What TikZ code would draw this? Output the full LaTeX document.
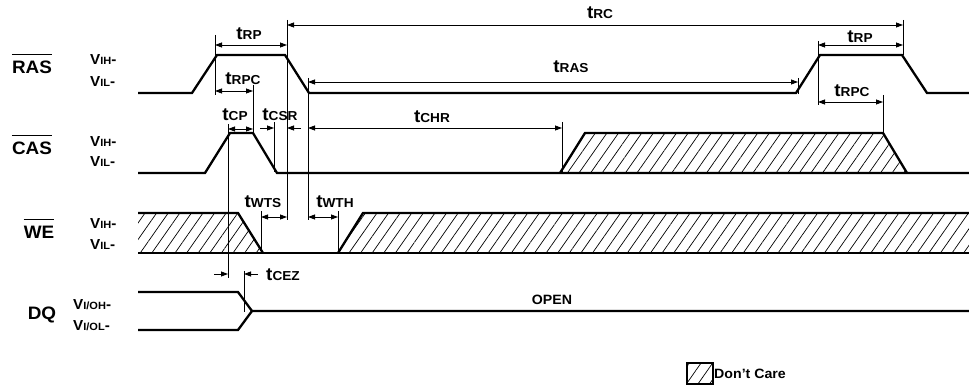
\documentclass[tikz,border=0pt]{standalone}
\usepackage{fontspec}
\setmainfont{Liberation Sans}[FakeStretch=1.05]
\usetikzlibrary{arrows.meta,patterns.meta}
\newcommand\tsub[1]{{\fontsize{18}{18}\selectfont t}{\fontsize{13}{13}\selectfont #1}}
\newcommand\vsub[1]{{\fontsize{14.5}{15}\selectfont V}{\fontsize{10.5}{11}\selectfont #1}{\fontsize{14.5}{15}\selectfont -}}
\begin{document}
\begin{tikzpicture}[x=1pt,y=-1pt,font=\bfseries,
  wave/.style={line width=2.3pt},
  guide/.style={line width=0.8pt},
  tip/.tip={Triangle[length=7pt,width=5pt]},
  dim/.style={line width=0.8pt,tip-tip},
  onedim/.style={line width=0.8pt,-tip},
  hatch/.style={pattern={Lines[angle=55,distance=9.5pt,line width=0.7pt]}},
  tlab/.style={inner sep=0pt},
  sig/.style={inner sep=0pt,font=\bfseries\fontsize{18}{18}\selectfont},
  lvl/.style={inner sep=0pt,anchor=west},
  small/.style={inner sep=0pt,font=\bfseries\fontsize{13.5}{14}\selectfont}]
\useasboundingbox (0,0) rectangle (969,387);
% ---------- signal names ----------
\node[sig] (ras) at (32,67) {RAS};
\node[sig] (cas) at (32,148) {CAS};
\node[sig] (we)  at (39,232) {WE};
\node[sig] (dq)  at (42,315) {DQ};
\foreach \n in {ras,cas,we}
  \draw[line width=1pt] ([yshift=6pt]\n.north west) -- ([yshift=6pt]\n.north east);
% ---------- levels ----------
\node[lvl] (l1) at (90,60) {\vsub{IH}};
\node[lvl] (l2) at (90,82) {\vsub{IL}};
\node[lvl] (l3) at (90,142) {\vsub{IH}};
\node[lvl] (l4) at (90,162) {\vsub{IL}};
\node[lvl] (l5) at (90,224) {\vsub{IH}};
\node[lvl] (l6) at (90,245) {\vsub{IL}};
\node[lvl] (l7) at (73,305) {\vsub{I/OH}};
\node[lvl] (l8) at (73,326) {\vsub{I/OL}};
% ---------- hatched areas ----------
\path[hatch] (560,173) -- (585,133) -- (883,133) -- (907,173) -- cycle;
\path[hatch] (138,213) -- (238,213) -- (263,253) -- (138,253) -- cycle;
\path[hatch] (338,253) -- (363,213) -- (969,213) -- (969,253) -- cycle;
% ---------- waveforms ----------
\draw[wave] (138,93) -- (192,93) -- (217,55) -- (285,55) -- (309,93) -- (796,93) -- (820,55) -- (902,55) -- (927,93) -- (969,93);
\draw[wave] (138,173) -- (205,173) -- (230,133) -- (253,133) -- (277,173) -- (969,173);
\draw[wave] (560,173) -- (585,133) -- (883,133) -- (907,173);
\draw[wave] (138,213) -- (238,213) -- (263,253);
\draw[wave] (138,253) -- (969,253);
\draw[wave] (338,253) -- (363,213) -- (969,213);
\draw[wave] (138,292) -- (238,292) -- (252,311) -- (969,311);
\draw[wave] (138,330) -- (238,330) -- (252,311);
% ---------- guide lines ----------
\draw[guide] (215,35) -- (215,95);
\draw[guide] (287,20) -- (287,220);
\draw[guide] (308,78) -- (308,220);
\draw[guide] (253,85) -- (253,134);
\draw[guide] (228,124) -- (228,278);
\draw[guide] (274,122) -- (274,172);
\draw[guide] (261,211) -- (261,253);
\draw[guide] (338,211) -- (338,253);
\draw[guide] (244,271) -- (244,312);
\draw[guide] (562,122) -- (562,173);
\draw[guide] (798,78) -- (798,94);
\draw[guide] (818,41) -- (818,105);
\draw[guide] (883,95) -- (883,134);
\draw[guide] (903,20) -- (903,55);
% ---------- dimensions ----------
\draw[dim] (215,45) -- (287,45);
\draw[dim] (215,91) -- (253,91);
\draw[dim] (228,129) -- (253,129);
\draw[onedim] (260,128) -- (274,128);
\draw[onedim] (301,128) -- (287,128);
\draw[dim] (308,128) -- (562,128);
\draw[dim] (287,25) -- (903,25);
\draw[dim] (308,82) -- (798,82);
\draw[dim] (818,45) -- (903,45);
\draw[dim] (818,102) -- (883,102);
\draw[dim] (261,217) -- (287,217);
\draw[dim] (308,217) -- (338,217);
\draw[onedim] (214,274) -- (228,274);
\draw[onedim] (258,274) -- (244,274);
% ---------- timing labels ----------
\node[tlab] (trp1) at (249,34) {\tsub{RP}};
\node[tlab] (trpc1) at (243,79) {\tsub{RPC}};
\node[tlab] (tcp) at (235,115) {\tsub{CP}};
\node[tlab] (tcsr) at (280,115) {\tsub{CSR}};
\node[tlab] (tchr) at (432,117) {\tsub{CHR}};
\node[tlab] (trc) at (600,13) {\tsub{RC}};
\node[tlab] (tras) at (571,67) {\tsub{RAS}};
\node[tlab] (trp2) at (860,37) {\tsub{RP}};
\node[tlab] (trpc2) at (852,91) {\tsub{RPC}};
\node[tlab] (twts) at (263,202) {\tsub{WTS}};
\node[tlab] (twth) at (335,202) {\tsub{WTH}};
\node[tlab] (tcez) at (283,275) {\tsub{CEZ}};
\node[small] (open) at (552,300) {OPEN};
% ---------- legend ----------
\draw[hatch,line width=2pt] (687,363) rectangle (713,384);
\node[small,anchor=west] (dc) at (714,374) {Don't Care};
\end{tikzpicture}
\end{document}
